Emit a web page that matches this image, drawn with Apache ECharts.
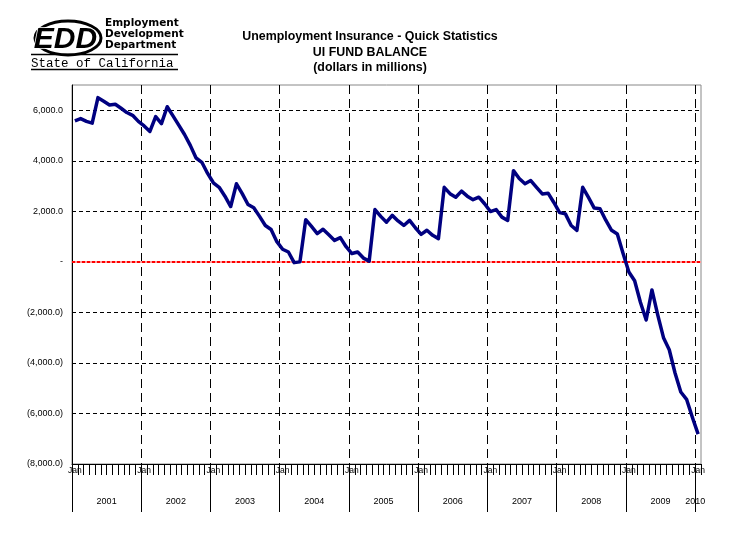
<!DOCTYPE html>
<html>
<head>
<meta charset="utf-8">
<script src="https://cdn.jsdelivr.net/npm/echarts@6/dist/echarts.min.js"></script>
<style>html,body{margin:0;padding:0;background:#fff}#c{width:729px;height:538px}</style>
</head>
<body>
<div id="c"></div>
<script>
// Years on the axis and month names used to build the monthly categories
const years = [2001, 2002, 2003, 2004, 2005, 2006, 2007, 2008, 2009, 2010];
const monthNames = ['Jan','Feb','Mar','Apr','May','Jun','Jul','Aug','Sep','Oct','Nov','Dec'];
const titleLines = ['Unemployment Insurance - Quick Statistics', 'UI FUND BALANCE', '(dollars in millions)'];
const logoLines = ['Employment', 'Development', 'Department'];
const yTicks = [-8000, -6000, -4000, -2000, 0, 2000, 4000, 6000];

// UI fund balance, $ millions, monthly Jan 2001 .. Jan 2010
const balance2001 = [5580, 5670, 5560, 5490, 6500, 6360, 6210, 6240, 6080, 5910, 5800, 5560];
const balance2002 = [5380, 5160, 5750, 5470, 6140, 5780, 5410, 5040, 4610, 4110, 3940, 3500];
const balance2003 = [3130, 2950, 2600, 2190, 3090, 2700, 2270, 2140, 1800, 1440, 1280, 800];
const balance2004 = [500, 390, -30, 0, 1670, 1400, 1120, 1290, 1070, 850, 960, 600];
const balance2005 = [330, 390, 150, 30, 2070, 1800, 1570, 1840, 1620, 1440, 1640, 1350];
const balance2006 = [1090, 1250, 1050, 920, 2950, 2700, 2560, 2800, 2600, 2460, 2560, 2300];
const balance2007 = [1990, 2070, 1770, 1640, 3610, 3300, 3090, 3220, 2950, 2690, 2720, 2350];
const balance2008 = [1950, 1900, 1440, 1250, 2950, 2550, 2130, 2100, 1650, 1250, 1100, 330];
const balance2009 = [-400, -750, -1600, -2300, -1110, -2100, -3000, -3480, -4400, -5150, -5440, -6150];
const balance2010 = [-6820];

const balance = [].concat(balance2001, balance2002, balance2003, balance2004, balance2005,
  balance2006, balance2007, balance2008, balance2009, balance2010);

// monthly categories (data points sit between month boundaries)
const categories = [];
years.forEach(function (y) {
  monthNames.forEach(function (m) {
    if (categories.length < balance.length) categories.push(m + ' ' + y);
  });
});
// month-boundary categories (one more than months) for the year axis / gridlines
const boundaries = categories.concat(['Feb 2010']);

function fmtNum(v) {
  return Math.abs(v).toLocaleString('en-US', {minimumFractionDigits: 1, maximumFractionDigits: 1});
}

const chart = echarts.init(document.getElementById('c'), null, {renderer: 'canvas'});
const FONT = 'Liberation Sans, Arial, sans-serif';

chart.setOption({
  backgroundColor: '#ffffff',
  animation: false,
  title: {
    text: titleLines.join('\n'),
    left: 365,
    textAlign: 'center',
    top: 24,
    textStyle: {fontFamily: FONT, fontSize: 12.4, fontWeight: 'bold', color: '#000', lineHeight: 15.5}
  },
  graphic: [
    {type: 'ellipse', shape: {cx: 68, cy: 38, rx: 33, ry: 17}, style: {fill: 'none', stroke: '#000', lineWidth: 3}},
    {type: 'text', left: 33, top: 24, style: {text: 'EDD', font: 'italic 900 30px Liberation Sans, Arial', fill: '#000', stroke: '#fff', lineWidth: 1.5}},
    {type: 'text', left: 105, top: 18, style: {text: logoLines[0], font: 'bold 10.5px DejaVu Sans, sans-serif', fill: '#000'}},
    {type: 'text', left: 105, top: 29, style: {text: logoLines[1], font: 'bold 10.5px DejaVu Sans, sans-serif', fill: '#000'}},
    {type: 'text', left: 105, top: 40, style: {text: logoLines[2], font: 'bold 10.5px DejaVu Sans, sans-serif', fill: '#000'}},
    {type: 'line', shape: {x1: 31, y1: 54.5, x2: 178, y2: 54.5}, style: {stroke: '#000', lineWidth: 1.5}},
    {type: 'text', left: 31, top: 57, style: {text: 'State of California', font: '12.5px Liberation Mono, monospace', fill: '#000'}},
    {type: 'line', shape: {x1: 31, y1: 69.5, x2: 178, y2: 69.5}, style: {stroke: '#000', lineWidth: 1.5}}
  ],
  grid: {
    left: 72, right: 28, top: 85, bottom: 74,
    show: true, borderColor: '#888', borderWidth: 1, backgroundColor: 'transparent'
  },
  xAxis: [
    {
      type: 'category',
      data: categories,
      boundaryGap: true,
      position: 'bottom',
      axisLine: {show: true, onZero: false, lineStyle: {color: '#000', width: 1}},
      axisTick: {show: true, interval: 0, length: 11, lineStyle: {color: '#000', width: 1}},
      axisLabel: {
        show: true,
        interval: function (idx) { return idx % 12 === 0; },
        formatter: function (v) { return v.split(' ')[0]; },
        fontFamily: FONT, fontSize: 8.5, color: '#000', margin: 2, align: 'center'
      },
      splitLine: {show: false}
    },
    {
      type: 'category',
      data: boundaries,
      boundaryGap: false,
      position: 'bottom',
      axisLine: {show: false, onZero: false},
      axisTick: {show: true, interval: function (idx) { return idx % 12 === 0; }, length: 48, lineStyle: {color: '#000', width: 1}},
      axisLabel: {
        show: true,
        interval: function (idx) { return idx % 12 === 6 || idx === balance.length - 1; },
        formatter: function (v) { return v.split(' ')[1]; },
        fontFamily: FONT, fontSize: 9, color: '#000', margin: 33
      },
      splitLine: {
        show: true,
        interval: function (idx) { return idx % 12 === 0 && idx > 0; },
        lineStyle: {color: '#000', width: 1, type: [9, 5]}
      }
    }
  ],
  yAxis: {
    type: 'value',
    min: yTicks[0],
    max: 7000,
    interval: 2000,
    axisLine: {show: true, onZero: false, lineStyle: {color: '#000', width: 1}},
    axisTick: {show: false},
    axisLabel: {
      fontFamily: FONT, fontSize: 9, color: '#000', margin: 9,
      formatter: function (v) {
        if (yTicks.indexOf(v) < 0) return '';
        if (v === 0) return '-';
        if (v < 0) return '(' + fmtNum(v) + ')';
        return fmtNum(v);
      }
    },
    splitLine: {show: true, showMinLine: false, showMaxLine: false, lineStyle: {color: '#000', width: 1, type: [4, 3]}}
  },
  series: [
    {
      type: 'line',
      data: balance,
      xAxisIndex: 0,
      symbol: 'none',
      lineStyle: {color: '#000080', width: 3.5, join: 'round'},
      z: 5,
      markLine: {
        silent: true,
        symbol: 'none',
        label: {show: false},
        animation: false,
        data: [
          {yAxis: 0, lineStyle: {color: '#ff9a9a', width: 2, type: 'solid'}},
          {yAxis: 0, lineStyle: {color: '#ff0000', width: 2, type: [3, 2]}}
        ]
      }
    }
  ]
});
</script>
</body>
</html>
